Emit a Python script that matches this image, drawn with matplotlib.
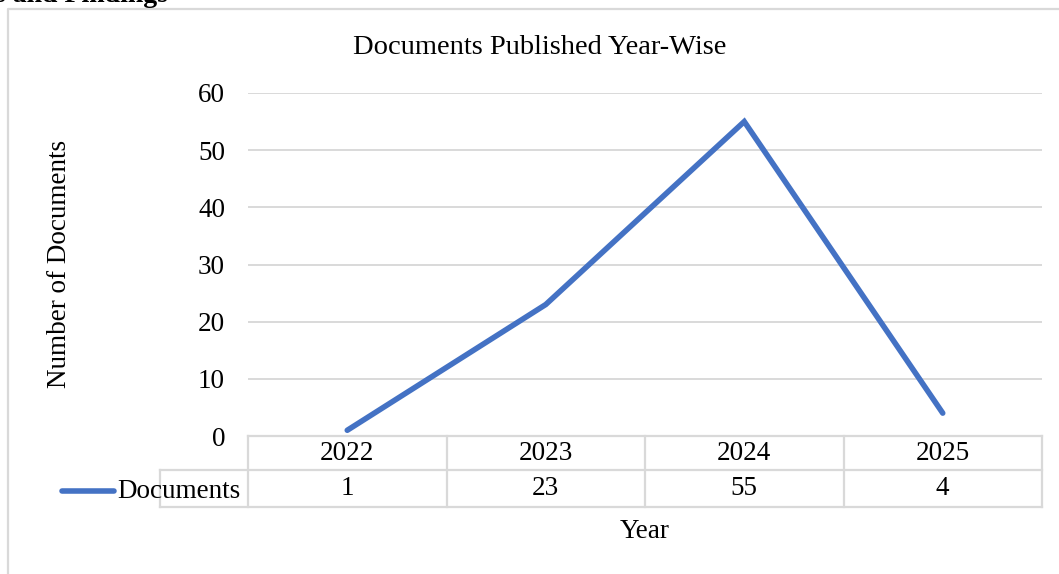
import matplotlib.pyplot as plt
from matplotlib.lines import Line2D

years = ["2022", "2023", "2024", "2025"]
documents = [1, 23, 55, 4]
series_name = "Documents"

W, H = 1059, 574
plt.rcParams['font.family'] = ['Liberation Serif', 'DejaVu Serif']

fig = plt.figure(figsize=(W / 100, H / 100), dpi=100)


def fx(px):
    return px / W


def fy(py):
    return 1 - py / H


grid_col = "#D9D9D9"
line_col = "#4472C4"
fs = 19.5

# plot area
left, right, top, bottom = 248, 1042, 93, 436
ax = fig.add_axes([fx(left), fy(bottom), fx(right - left), fy(top) - fy(bottom)])
x = list(range(len(years)))
ax.plot(x, documents, color=line_col, lw=4.0, solid_capstyle='round', solid_joinstyle='miter', zorder=3)
ax.set_xlim(-0.5, len(years) - 0.5)
ax.set_ylim(0, 60)
ax.set_yticks(range(0, 61, 10))
ax.yaxis.grid(True, color=grid_col, lw=1.4)
ax.set_axisbelow(True)
ax.set_xticks([])
for s in ['top', 'right', 'left']:
    ax.spines[s].set_visible(False)
ax.spines['bottom'].set_color(grid_col)
ax.spines['bottom'].set_linewidth(1.6)
ax.tick_params(axis='y', length=0, pad=16.5, labelsize=fs)

# data table
row1, row2, row3 = bottom, 470, 507
cell_w = (right - left) / len(years)
lines = []
for i in range(len(years) + 1):
    xp = left + i * cell_w
    lines.append(([xp, xp], [row1, row3]))
lines.append(([160, right], [row2, row2]))
lines.append(([160, right], [row3, row3]))
lines.append(([160, 160], [row2, row3]))
for xs, ys in lines:
    fig.add_artist(Line2D([fx(v) for v in xs], [fy(v) for v in ys], color=grid_col, lw=1.6))

for i, (yr, val) in enumerate(zip(years, documents)):
    cx = left + (i + 0.5) * cell_w
    fig.text(fx(cx), fy((row1 + row2) / 2), yr, ha='center', va='center', fontsize=fs)
    fig.text(fx(cx), fy((row2 + row3) / 2), str(val), ha='center', va='center', fontsize=fs)

fig.add_artist(Line2D([fx(62), fx(114)], [fy(491), fy(491)], color=line_col, lw=4.0, solid_capstyle='round'))
fig.text(fx(117), fy(491), series_name, ha='left', va='center', fontsize=fs)

# titles
fig.text(fx(540), fy(47), "Documents Published Year-Wise", ha='center', va='center', fontsize=20.5)
fig.text(fx(645), fy(532), "Year", ha='center', va='center', fontsize=fs)
fig.text(fx(60), fy(264), "Number of Documents", ha='center', va='center', rotation=90, fontsize=fs)

# chart border and cropped page heading
fig.add_artist(Line2D([fx(8), fx(8), fx(W + 5)], [fy(H + 5), fy(9), fy(9)], color=grid_col, lw=1.6))
fig.text(fx(168), fy(1.5), "s and Findings", ha='right', va='baseline', fontsize=20, fontweight='bold')

fig.savefig("out.png", dpi=100)
